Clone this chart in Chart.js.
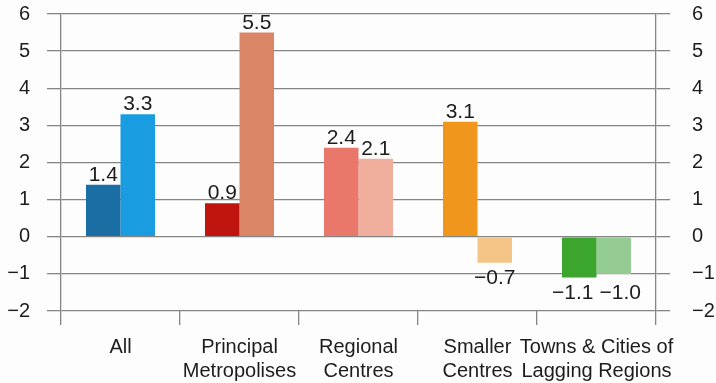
<!DOCTYPE html>
<html lang="en">
<head>
    <meta charset="UTF-8">
    <title>Growth by city type</title>
    <script src="https://cdn.jsdelivr.net/npm/chart.js"></script>
    <style>
        html, body { margin: 0; padding: 0; background: #fdfdfd; }
        #wrap { position: relative; width: 716px; height: 383px; }
    </style>
</head>
<body>
    <div id="wrap">
        <canvas id="growthChart"></canvas>
    </div>
    <script>
        // categories and the two series per category
        const categories = [
            ['All'],
            ['Principal', 'Metropolises'],
            ['Regional', 'Centres'],
            ['Smaller', 'Centres'],
            ['Towns & Cities of', 'Lagging Regions']
        ];
        const firstSeries = [1.4, 0.9, 2.4, 3.1, -1.1];
        const secondSeries = [3.3, 5.5, 2.1, -0.7, -1.0];
        const yTicks = [-2, -1, 0, 1, 2, 3, 4, 5, 6];

        // each category has its own dark / light colour pair
        const darkColors = ['#1a6ea3', '#c0140f', '#e9786a', '#f0961c', '#3ca52e'];
        const lightColors = ['#1a9ce0', '#da8666', '#f0ae9d', '#f5c588', '#93cb93'];

        const gridColor = '#858585';
        const textColor = '#1c1c1c';
        const fontFamily = "'Liberation Sans', Arial, sans-serif";

        const minus = (s) => String(s).replace('-', '\u2212');

        // value labels above positive bars, below negative ones;
        // two negative labels in one category share a line and are pushed apart
        const valueLabels = {
            id: 'valueLabels',
            afterDatasetsDraw(chart) {
                const ctx = chart.ctx;
                ctx.save();
                ctx.font = '21px ' + fontFamily;
                ctx.fillStyle = textColor;
                ctx.textAlign = 'center';
                ctx.textBaseline = 'alphabetic';
                const metas = chart.data.datasets.map((ds, i) => chart.getDatasetMeta(i));
                chart.data.labels.forEach((cat, j) => {
                    const items = chart.data.datasets.map((ds, i) => {
                        const bar = metas[i].data[j];
                        const v = ds.data[j];
                        const text = minus(v.toFixed(1));
                        return {
                            v: v, text: text, x: bar.x,
                            y: v >= 0 ? bar.y - 4 : bar.y + 21,
                            w: ctx.measureText(text).width
                        };
                    });
                    const [a, b] = items;
                    if (a.v < 0 && b.v < 0) {
                        const y = Math.max(a.y, b.y);
                        a.y = y; b.y = y;
                        const overlap = (a.x + a.w / 2 + 6) - (b.x - b.w / 2);
                        if (overlap > 0) {
                            a.x -= overlap / 2;
                            b.x += overlap / 2;
                        }
                    }
                    items.forEach(it => ctx.fillText(it.text, it.x, it.y));
                });
                ctx.restore();
            }
        };

        const yScale = (position, width, padding) => ({
            position: position,
            min: yTicks[0],
            max: yTicks[yTicks.length - 1],
            afterBuildTicks(scale) {
                scale.ticks = yTicks.map(v => ({ value: v }));
            },
            afterFit(scale) {
                scale.width = width;
                scale.paddingTop = 0;
                scale.paddingBottom = 0;
            },
            ticks: {
                color: textColor,
                font: { size: 20, family: fontFamily },
                padding: padding,
                callback: (v) => minus(v)
            },
            grid: {
                color: gridColor,
                lineWidth: 1.3,
                tickLength: 14,
                drawOnChartArea: position === 'left'
            },
            border: { display: true, color: gridColor, width: 1.3 }
        });

        new Chart(document.getElementById('growthChart'), {
            type: 'bar',
            data: {
                labels: categories,
                datasets: [
                    { data: firstSeries, backgroundColor: darkColors, yAxisID: 'y' },
                    { data: secondSeries, backgroundColor: lightColors, yAxisID: 'y' }
                ]
            },
            options: {
                responsive: true,
                maintainAspectRatio: false,
                animation: false,
                barPercentage: 1,
                categoryPercentage: 0.58,
                layout: { padding: { top: 14, left: 0, right: 0, bottom: 0 } },
                plugins: {
                    legend: { display: false },
                    tooltip: { enabled: false }
                },
                scales: {
                    x: {
                        afterFit(scale) { scale.height = 72; },
                        ticks: {
                            color: textColor,
                            font: { size: 20, family: fontFamily, lineHeight: 1.2 },
                            padding: 10,
                            maxRotation: 0,
                            autoSkip: false
                        },
                        grid: {
                            offset: true,
                            drawOnChartArea: false,
                            color: gridColor,
                            lineWidth: 1.3,
                            tickLength: 14
                        },
                        border: { display: false }
                    },
                    y: yScale('left', 61, 17),
                    y2: yScale('right', 60, 22)
                }
            },
            plugins: [valueLabels]
        });
    </script>
</body>
</html>
